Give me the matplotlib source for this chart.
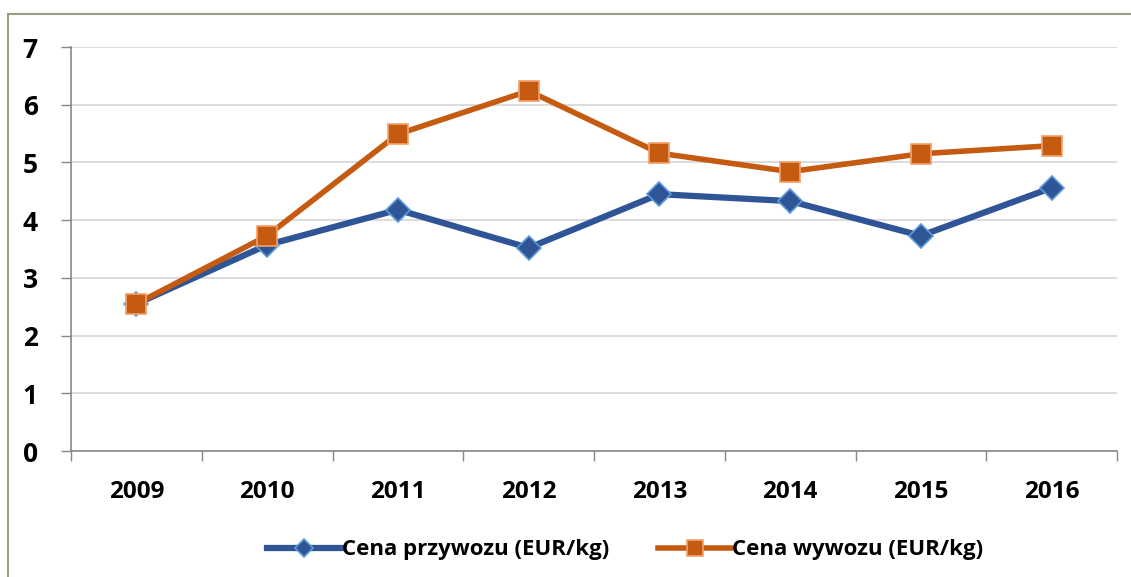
import matplotlib.pyplot as plt
import matplotlib.patches as patches
import numpy as np

years = ['2009', '2010', '2011', '2012', '2013', '2014', '2015', '2016']
import_price = [2.55, 3.57, 4.18, 3.52, 4.45, 4.33, 3.73, 4.56]
export_price = [2.55, 3.73, 5.49, 6.24, 5.16, 4.84, 5.15, 5.29]

plt.rcParams['font.family'] = ['Open Sans', 'DejaVu Sans']

fig = plt.figure(figsize=(11.31, 5.77), dpi=100)
ax = fig.add_axes([71 / 1131, 1 - 451 / 577, 1046 / 1131, 404 / 577])

# outer chart frame (cut off on the right and bottom)
fig.patches.append(patches.Rectangle((8 / 1131, -0.1), 1.2, 1 - 14 / 577 + 0.1,
                                     transform=fig.transFigure, fill=False,
                                     edgecolor='#9b9d85', linewidth=1.5))

x = np.arange(len(years))
ax.plot(x, import_price, color='#2f5597', linewidth=4.5, marker='D', markersize=12,
        markerfacecolor='#2f5597', markeredgecolor='#5b9bd5', markeredgewidth=1.2,
        label='Cena przywozu (EUR/kg)', zorder=3)
ax.plot(x, export_price, color='#c55a11', linewidth=4, marker='s', markersize=15,
        markerfacecolor='#c55a11', markeredgecolor='#f4a06a', markeredgewidth=1.2,
        label='Cena wywozu (EUR/kg)', zorder=4)

ax.set_xlim(-0.5, len(years) - 0.5)
ax.set_ylim(0, 7)
ax.set_yticks(range(0, 8))
ax.set_xticks(x)
ax.set_xticklabels(years, fontweight='bold')
ax.set_yticklabels([str(v) for v in range(0, 8)], fontweight='bold')
ax.set_xticks(np.arange(-0.5, len(years)), minor=True)
ax.tick_params(axis='x', which='major', length=0, pad=21, labelsize=17.5)
ax.tick_params(axis='x', which='minor', length=7, color='#888888', width=1)
ax.tick_params(axis='y', length=7, color='#888888', width=1, pad=17, labelsize=19)

ax.grid(axis='y', color='#d9d9d9', linewidth=1.3)
ax.set_axisbelow(True)
for s in ['top', 'right']:
    ax.spines[s].set_visible(False)
for s in ['left', 'bottom']:
    ax.spines[s].set_color('#888888')
    ax.spines[s].set_linewidth(1.2)

ax.legend(loc='center', bbox_to_anchor=(0.53, -0.245), ncol=2, frameon=False,
          prop={'size': 16, 'weight': 'bold'}, handlelength=3.3, markerscale=0.8,
          columnspacing=2.2, handletextpad=0.05)

fig.savefig('out.png', dpi=100)
